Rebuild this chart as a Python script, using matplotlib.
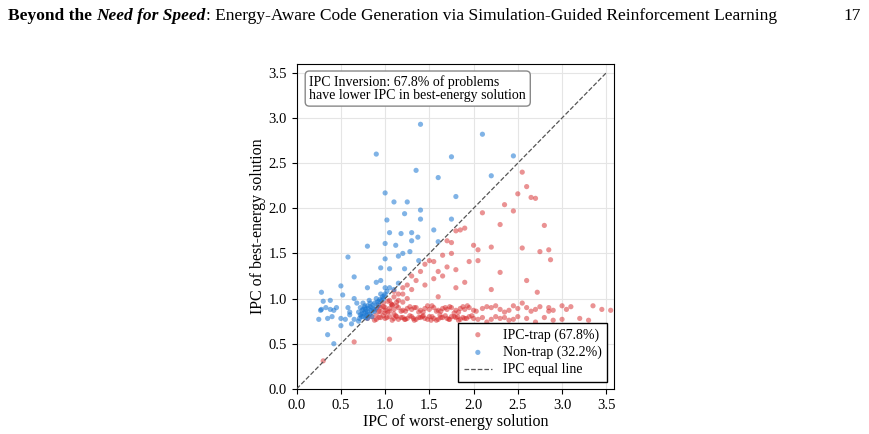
import matplotlib
matplotlib.use("Agg")
import matplotlib.pyplot as plt

# Non-trap (blue) points: x = IPC worst-energy, y = IPC best-energy
blue_x = [1.4,2.1,0.9,1.75,2.45,1.35,1.6,2.2,1.0,1.8,1.1,1.25,1.4,1.22,1.4,1.75,1.02,1.05,1.3,1.18,1.55,1.37,1.6,0.8,1.12,1.0,1.3,1.2,1.15,1.28,1.38,0.58,1.0,0.95,1.05,1.22,0.95,0.65,0.9,1.0,0.8,0.5,0.28,0.52,0.38,0.3,0.45,0.28,0.33,0.25,0.35,0.4,0.5,0.55,0.5,0.35,0.42,0.6,0.65,0.62,0.7,0.68,0.72,0.75,0.78,0.8,0.82,0.85,0.75,0.8,0.88,0.9,0.92,0.95,0.85,0.78,0.72,0.83,0.87,0.77,0.93,0.98,1.0,1.02,0.96,0.7,0.74,0.8,0.85,0.9,1.1,1.15,1.05,0.65,0.58,0.6,0.42,0.38,0.27,0.75,0.82,0.76,0.79,0.81,0.84,0.86,0.73,0.77,0.8,0.83,0.88,0.91,0.94,0.97,0.99,0.71,0.74,0.78]
blue_y = [2.93,2.82,2.6,2.57,2.58,2.42,2.34,2.36,2.17,2.13,2.07,2.07,1.98,1.94,1.88,1.88,1.87,1.73,1.73,1.72,1.76,1.68,1.63,1.58,1.59,1.61,1.64,1.5,1.47,1.52,1.42,1.46,1.44,1.34,1.33,1.33,1.2,1.24,1.18,1.12,1.12,1.14,1.07,1.04,0.98,0.97,0.9,0.88,0.9,0.77,0.78,0.8,0.78,0.77,0.7,0.6,0.5,0.85,0.77,0.72,0.85,0.95,0.9,0.88,0.85,0.92,0.82,0.9,0.8,0.78,0.95,1.0,0.93,1.05,0.85,0.88,0.82,0.95,0.88,0.92,0.97,1.0,1.05,1.08,0.98,0.75,0.87,0.86,0.8,0.9,1.1,1.17,1.12,1.0,0.9,0.82,0.87,0.88,0.87,0.95,0.98,0.84,0.81,0.89,0.87,0.93,0.8,0.9,0.83,0.91,0.86,0.96,0.99,1.02,1.03,0.78,0.83,0.79]

# IPC-trap (red) points
red_x = [2.55,2.6,2.5,2.65,2.7,2.45,2.35,2.1,2.3,2.8,1.85,1.8,1.9,2.2,1.75,1.7,2.0,2.05,2.55,2.75,2.85,2.87,1.75,1.55,1.45,1.5,1.65,1.95,1.7,1.6,1.3,1.35,1.25,1.4,1.55,1.65,1.8,2.3,2.05,2.6,2.72,1.2,1.15,1.3,1.1,1.45,1.6,1.8,2.2,1.9,1.05,1.1,1.2,0.65,1.05,0.3,
         0.8,0.85,0.9,0.95,1.0,1.05,1.1,1.15,1.2,1.25,1.3,1.35,1.4,1.45,1.5,1.55,1.6,1.65,1.7,1.75,1.8,1.85,1.9,1.95,2.0,2.1,2.2,2.3,2.4,2.5,2.6,2.7,2.8,2.9,3.0,3.2,1.02,1.12,1.22,1.32,1.42,1.52,1.62,1.72,1.82,1.92,2.15,2.45,
         0.88,0.93,0.98,1.08,1.13,1.18,1.23,1.28,1.33,1.38,1.43,1.48,1.53,1.58,1.63,1.68,1.73,1.78,1.83,1.88,1.98,2.05,2.25,2.35,
         0.9,0.95,1.0,1.05,1.1,1.15,1.2,1.25,1.3,1.35,1.4,1.45,1.5,1.55,1.6,1.65,1.7,1.75,1.8,1.85,1.9,1.95,2.0,2.1,2.2,2.3,2.4,2.5,2.6,2.7,2.85,2.9,3.0,3.05,3.1,3.3,3.35,3.45,3.55,1.08,1.18,1.28,1.38,1.48,1.58,1.68,1.78,1.88,2.25,2.55,2.85,
         0.93,0.98,1.03,1.13,1.23,1.33,1.43,1.53,1.63,1.73,1.83,1.93,2.03,2.15,2.35,2.45,2.65,2.75,
         0.9,0.95,1.0,1.05,1.1,0.98,1.03,1.08,1.13,0.93,1.0,1.07,1.15,1.2,1.25]
red_y = [2.4,2.24,2.16,2.12,2.11,1.97,2.04,1.95,1.82,1.81,1.76,1.75,1.78,1.57,1.62,1.64,1.59,1.54,1.56,1.52,1.54,1.43,1.5,1.41,1.38,1.42,1.48,1.41,1.35,1.3,1.25,1.2,1.15,1.3,1.22,1.25,1.32,1.29,1.42,1.2,1.07,1.12,1.05,1.1,1.08,1.15,1.02,1.12,1.1,1.18,0.98,1.02,1.05,0.52,0.55,0.31,
         0.78,0.8,0.77,0.79,0.78,0.8,0.78,0.77,0.79,0.78,0.8,0.77,0.79,0.78,0.8,0.78,0.77,0.79,0.78,0.8,0.79,0.77,0.78,0.8,0.78,0.79,0.77,0.78,0.76,0.8,0.78,0.74,0.79,0.76,0.77,0.78,0.79,0.81,0.77,0.78,0.8,0.76,0.82,0.77,0.8,0.78,0.74,0.77,
         0.76,0.79,0.81,0.76,0.8,0.79,0.77,0.81,0.76,0.79,0.81,0.77,0.8,0.76,0.79,0.81,0.77,0.8,0.76,0.79,0.81,0.77,0.8,0.79,
         0.88,0.9,0.87,0.89,0.88,0.9,0.87,0.89,0.88,0.9,0.87,0.89,0.88,0.9,0.87,0.89,0.88,0.9,0.87,0.89,0.88,0.9,0.87,0.89,0.9,0.88,0.87,0.89,0.9,0.88,0.86,0.87,0.92,0.88,0.91,0.76,0.92,0.88,0.87,0.93,0.86,0.91,0.85,0.92,0.86,0.9,0.84,0.91,0.92,0.95,0.9,
         0.86,0.91,0.85,0.92,0.86,0.9,0.85,0.92,0.86,0.91,0.85,0.92,0.86,0.91,0.85,0.92,0.86,0.91,
         0.82,0.85,0.84,0.86,0.83,0.95,0.97,0.93,0.96,0.92,0.9,0.94,0.98,0.96,1.0]

plt.rcParams['font.family'] = ['Liberation Serif', 'DejaVu Serif']
fig = plt.figure(figsize=(8.7, 4.34), dpi=100)
r = fig.canvas.get_renderer()
parts = [("Beyond the ", dict(fontweight='bold')),
         ("Need for Speed", dict(fontweight='bold', style='italic')),
         (": Energy-Aware Code Generation via Simulation-Guided Reinforcement Learning", dict())]
x = 8
for s, kw in parts:
    t = fig.text(x / 870, 0.955, s, fontsize=12.5, transform=fig.transFigure, **kw)
    x += t.get_window_extent(r).width
fig.text(0.99, 0.955, "17", fontsize=12.5, ha='right')

ax = fig.add_axes([0.341, 0.104, 0.365, 0.749])
ax.scatter(red_x, red_y, s=14, color='#d62728', alpha=0.5, edgecolors='none', label='IPC-trap (67.8%)', zorder=3)
ax.scatter(blue_x, blue_y, s=14, color='#1976d2', alpha=0.55, edgecolors='none', label='Non-trap (32.2%)', zorder=3)
ax.plot([0, 3.5], [0, 3.5], ls='--', color='#555555', lw=0.9, label='IPC equal line', zorder=4)
ax.set_xlim(0, 3.59)
ax.set_ylim(0, 3.6)
ax.set_xticks([0, 0.5, 1, 1.5, 2, 2.5, 3, 3.5])
ax.set_yticks([0, 0.5, 1, 1.5, 2, 2.5, 3, 3.5])
ax.tick_params(labelsize=10.5)
ax.grid(True, color='#e5e5e5', lw=0.8)
ax.set_axisbelow(True)
ax.set_xlabel("IPC of worst-energy solution", fontsize=11.5, labelpad=2)
ax.set_ylabel("IPC of best-energy solution", fontsize=11.5, labelpad=2)
ax.text(0.04, 0.965, "IPC Inversion: 67.8% of problems\nhave lower IPC in best-energy solution",
        transform=ax.transAxes, va='top', fontsize=10, linespacing=1.0,
        bbox=dict(boxstyle='round,pad=0.3', fc='white', ec='#888888'))
ax.legend(loc='lower right', fontsize=10, fancybox=False, edgecolor='black', framealpha=1,
          handletextpad=0.8, borderpad=0.4, labelspacing=0.3)
fig.savefig("out.png", dpi=100)
